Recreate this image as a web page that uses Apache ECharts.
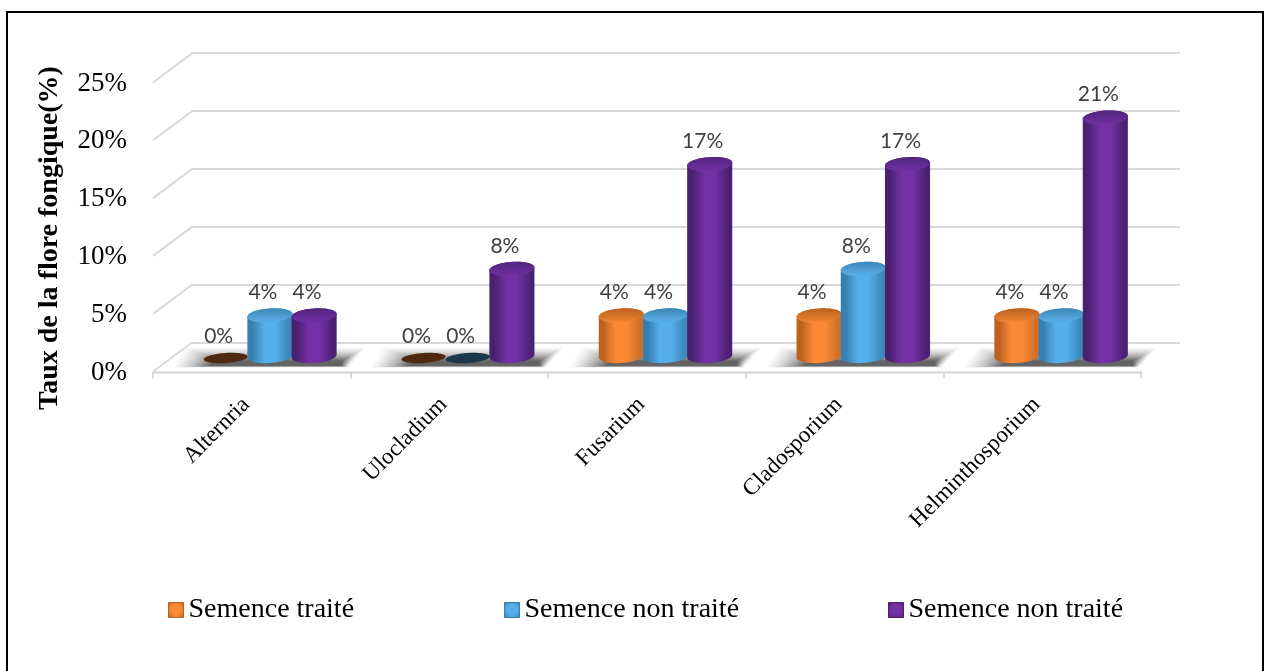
<!DOCTYPE html>
<html>
<head>
<meta charset="utf-8">
<style>html,body{margin:0;padding:0;background:#fff}#c{width:1266px;height:671px}</style>
<script src="https://cdn.jsdelivr.net/npm/echarts@6/dist/echarts.min.js"></script>
</head>
<body>
<div id="c"></div>
<script>
const categories = ['Alternria', 'Ulocladium', 'Fusarium', 'Cladosporium', 'Helminthosporium'];
const traite = [0, 0, 4, 4, 4];
const nonTraiteA = [4, 0, 4, 8, 4];
const nonTraiteB = [4, 8, 17, 17, 21];
const yTicks = [0, 5, 10, 15, 20, 25];
const seriesNames = ['Semence traité', 'Semence non traité', 'Semence non traité'];
const yTitle = 'Taux de la flore fongique(%)';

const palette = [
  {edgeL:'#bd6120', mid:'#fa8a35', edgeR:'#cf6f27', capA:'#b9611f', capB:'#e07a2c', zero:'#4f2a10'},
  {edgeL:'#367fb0', mid:'#56aeea', edgeR:'#3c88bb', capA:'#3d86b6', capB:'#55a6dc', zero:'#1b394d'},
  {edgeL:'#4a2070', mid:'#7331a5', edgeR:'#4c2173', capA:'#52247c', capB:'#6a2d98', zero:'#2c1343'}
];
const SERIF = '"Liberation Serif","Times New Roman",serif';
const LABEL = 'Lato,"Open Sans",sans-serif';

function lin(x, y, x2, y2, stops) {
  return {type:'linear', x, y, x2, y2, colorStops: stops.map(c => ({offset:c[0], color:c[1]}))};
}

function ellipseArc(cx, cy, rx, ry, a, t0, t1, n) {
  const out = [];
  for (let k = 0; k <= n; k++) {
    const t = t0 + (t1 - t0) * k / n;
    out.push([cx + rx * Math.cos(t) * Math.cos(a) - ry * Math.sin(t) * Math.sin(a),
              cy + rx * Math.cos(t) * Math.sin(a) + ry * Math.sin(t) * Math.cos(a)]);
  }
  return out;
}

function cylinder(s) {
  return function (params, api) {
    const i = api.value(0), v = api.value(1);
    const band = api.size([1, 0])[0];
    const w = band * 0.2235;
    const rx = w / 2 + 0.5, ry = 7, a = -0.07;
    const p0 = api.coord([i, 0]), pv = api.coord([i, v]);
    const cx = p0[0] + (s - 1) * w;
    const col = palette[s];
    const children = [];
    const label = {
      type:'text', z2:5,
      style:{x:cx - 7, y:pv[1] - 23, text:v + '%', fill:'#404040', font:'21px ' + LABEL, align:'center', verticalAlign:'middle'}
    };
    if (v === 0) {
      children.push({type:'polygon', shape:{points:ellipseArc(cx, p0[1] - 4, rx - 0.5, 5, a, 0, Math.PI * 2, 48)}, style:{fill:col.zero}});
      label.style.y = p0[1] - 26;
      children.push(label);
      return {type:'group', children};
    }
    const yb = p0[1] - 6, yt = pv[1];
    const bodyPts = ellipseArc(cx, yb, rx, ry, a, 0, Math.PI, 32).concat(ellipseArc(cx, yt, rx, ry, a, Math.PI, Math.PI * 2, 32));
    children.push({type:'polygon', shape:{points:bodyPts},
      style:{fill:lin(0, 0, 1, 0, [[0,col.edgeL],[0.1,col.edgeL],[0.38,col.mid],[0.62,col.mid],[0.92,col.edgeR],[1,col.edgeR]])}});
    children.push({type:'polygon', shape:{points:ellipseArc(cx, yt, rx, ry, a, 0, Math.PI * 2, 48)},
      style:{fill:lin(0, 0, 0, 1, [[0,col.capA],[0.75,col.capB],[1,col.mid]])}});
    children.push(label);
    return {type:'group', children};
  };
}

function floorShadow(params, api) {
  const i = api.value(0);
  const c = api.coord([i, 0])[0];
  const layers = 16, children = [];
  for (let k = 0; k < layers; k++) {
    const e = k / (layers - 1);
    const top = 347.5 + 13 * e, bot = 367.5 - 1.5 * e;
    children.push({type:'polygon', shape:{points:[
      [c - 84 + 32 * e, top], [c + 96 - 24 * e, top],
      [c + 78 - 6 * e, bot], [c - 97 + 36 * e, bot]
    ]}, style:{fill:'rgba(30,30,30,' + (0.025 + 0.12 * e * e).toFixed(3) + ')'}});
  }
  return {type:'group', children};
}

function wallDiagonals(params, api) {
  const p = api.coord([0, api.value(1)]);
  const x0 = params.coordSys.x, y0 = p[1] - 1;
  return {type:'line', shape:{x1:x0, y1:y0, x2:x0 + 39, y2:y0 - 29}, style:{stroke:'#d9d9d9', lineWidth:2}};
}

const pctAxis = {type:'value', min:0, max:25, interval:5};

const option = {
  backgroundColor:'#fff',
  animation:false,
  graphic:[{type:'rect', shape:{x:7, y:12, width:1256, height:670}, style:{fill:'none', stroke:'#000', lineWidth:2}, silent:true}],
  grid:[
    {left:153, width:988, top:83.5, height:289},
    {left:191, width:989, top:53, height:290},
    {left:171, width:989, top:71, height:291}
  ],
  xAxis:[
    {type:'category', gridIndex:0, data:categories, boundaryGap:true,
     axisLine:{show:true, lineStyle:{color:'#d9d9d9', width:2.5}},
     axisTick:{show:true, length:6, alignWithLabel:false, lineStyle:{color:'#d9d9d9', width:2}},
     axisLabel:{rotate:45, margin:23, padding:[0,8,0,0], interval:0, color:'#000', fontFamily:SERIF, fontSize:23},
     splitLine:{show:false}},
    {type:'category', gridIndex:1, data:categories, show:false},
    {type:'category', gridIndex:2, data:categories, show:false}
  ],
  yAxis:[
    Object.assign({}, pctAxis, {gridIndex:0,
      name:yTitle, nameLocation:'middle', nameGap:89,
      nameTextStyle:{fontFamily:SERIF, fontWeight:'bold', fontSize:28, color:'#000', padding:[0,20,0,0]},
      axisLine:{show:false}, axisTick:{show:false}, splitLine:{show:false},
      axisLabel:{margin:26, color:'#000', fontFamily:SERIF, fontSize:27, formatter:'{value}%'}}),
    Object.assign({}, pctAxis, {gridIndex:1, axisLine:{show:false}, axisTick:{show:false}, axisLabel:{show:false},
      splitLine:{show:true, lineStyle:{color:'#d9d9d9', width:2}}}),
    Object.assign({}, pctAxis, {gridIndex:2, show:false, splitLine:{show:false}})
  ],
  legend:[163, 499, 883].map((left, k) => ({
    left, top:591, orient:'horizontal', icon:'rect', itemWidth:15, itemHeight:15, selectedMode:false,
    textStyle:{fontFamily:SERIF, fontSize:28, color:'#000'},
    data:[{name:seriesNames[k], itemStyle:{
      color:{type:'radial', x:0.5, y:0.5, r:0.7, colorStops:[{offset:0,color:palette[k].mid},{offset:0.45,color:palette[k].mid},{offset:1,color:palette[k].edgeL}]},
      borderColor:palette[k].edgeL, borderWidth:1}}]
  })),
  series:[
    {type:'custom', name:'diagonales', xAxisIndex:0, yAxisIndex:0, silent:true, z:1,
     data:yTicks.map(t => [0, t]), encode:{x:0, y:1}, renderItem:wallDiagonals},
    {type:'custom', name:'ombre', xAxisIndex:2, yAxisIndex:2, silent:true, z:2,
     data:categories.map((c, i) => [i, 0]), encode:{x:0, y:1}, renderItem:floorShadow, clip:false},
    ...[traite, nonTraiteA, nonTraiteB].map((vals, s) => ({
      type:'custom', name:seriesNames[s], xAxisIndex:2, yAxisIndex:2, z:3 + s, clip:false,
      itemStyle:{color:palette[s].mid},
      data:vals.map((v, i) => [i, v]), encode:{x:0, y:1}, renderItem:cylinder(s)
    }))
  ]
};
echarts.init(document.getElementById('c')).setOption(option);
</script>
</body>
</html>
